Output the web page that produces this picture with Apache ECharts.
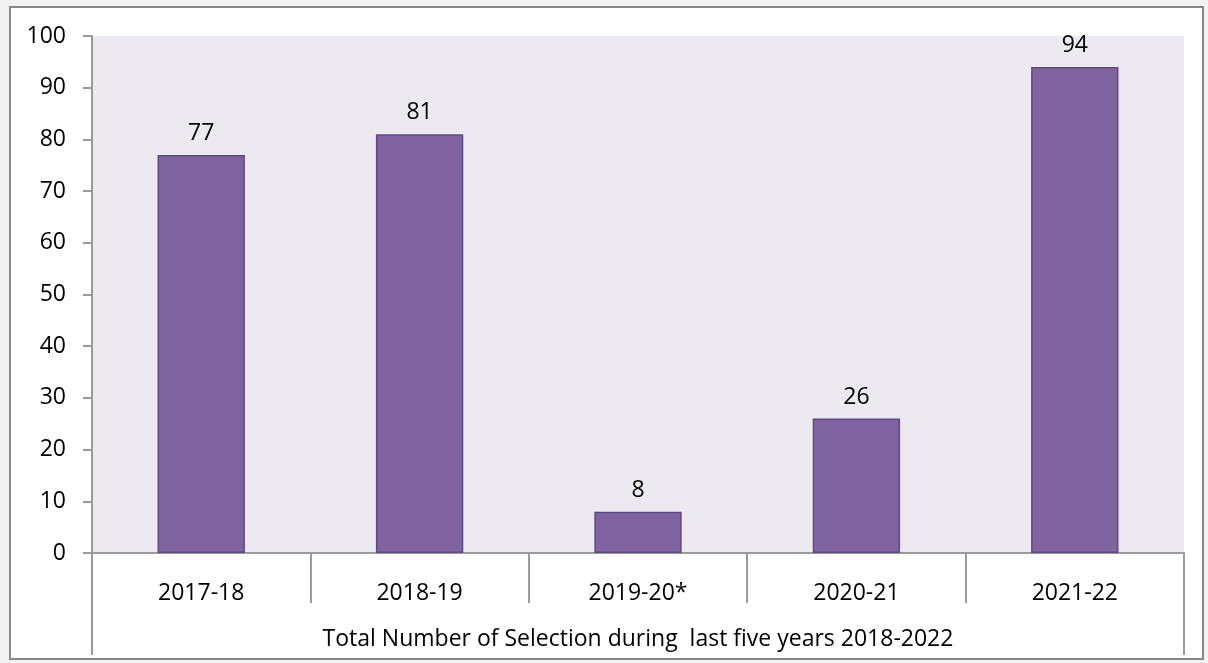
<!DOCTYPE html>
<html><head><meta charset="utf-8">
<script src="https://cdn.jsdelivr.net/npm/echarts@6/dist/echarts.min.js"></script>
<style>
html,body{margin:0;padding:0;background:#f2f2f2;}
#frame{position:absolute;left:9px;top:6px;width:1195px;height:654px;background:#fff;border:2px solid #888;box-sizing:border-box;}
#c{position:absolute;left:0;top:0;width:1208px;height:663px;}
</style></head>
<body>
<div id="frame"></div>
<div id="c"></div>
<script>
const categories = ['2017-18','2018-19','2019-20*','2020-21','2021-22'];
const values = [77, 81, 8, 26, 94];
const groupLabel = ['Total Number of Selection during  last five years 2018-2022'];
const yTicks = {min:0, max:100, interval:10};

const FONT = 'Open Sans';
const FS = 23;
const chart = echarts.init(document.getElementById('c'), null, {renderer:'canvas'});
chart.setOption({
  animation:false,
  grid:{left:92, right:24, top:36, bottom:110, show:true, backgroundColor:'#ECEAF0', borderWidth:0},
  xAxis:[{
    type:'category', data:categories, position:'bottom',
    axisLine:{show:true, lineStyle:{color:'#9a9a9a', width:2}},
    axisTick:{show:true, length:50, lineStyle:{color:'#9a9a9a', width:2}},
    axisLabel:{color:'#000', fontFamily:FONT, fontSize:FS, margin:29}
  },{
    type:'category', data:groupLabel, position:'bottom', gridIndex:0,
    axisLine:{show:false},
    axisTick:{show:true, length:102, lineStyle:{color:'#9a9a9a', width:2}},
    axisLabel:{color:'#000', fontFamily:FONT, fontSize:FS, margin:75}
  }],
  yAxis:{
    type:'value', min:yTicks.min, max:yTicks.max, interval:yTicks.interval,
    axisLine:{show:true, lineStyle:{color:'#9a9a9a', width:2}},
    axisTick:{show:true, length:9, lineStyle:{color:'#9a9a9a', width:2}},
    splitLine:{show:false},
    axisLabel:{color:'#000', fontFamily:FONT, fontSize:FS, margin:26}
  },
  series:[{
    type:'bar', data:values, barWidth:'40%', xAxisIndex:0,
    itemStyle:{color:'#8064A2', borderColor:'#5E4A82', borderWidth:1.5},
    label:{show:true, position:'top', distance:10, color:'#000', fontFamily:FONT, fontSize:FS}
  }]
});
</script>
</body></html>
